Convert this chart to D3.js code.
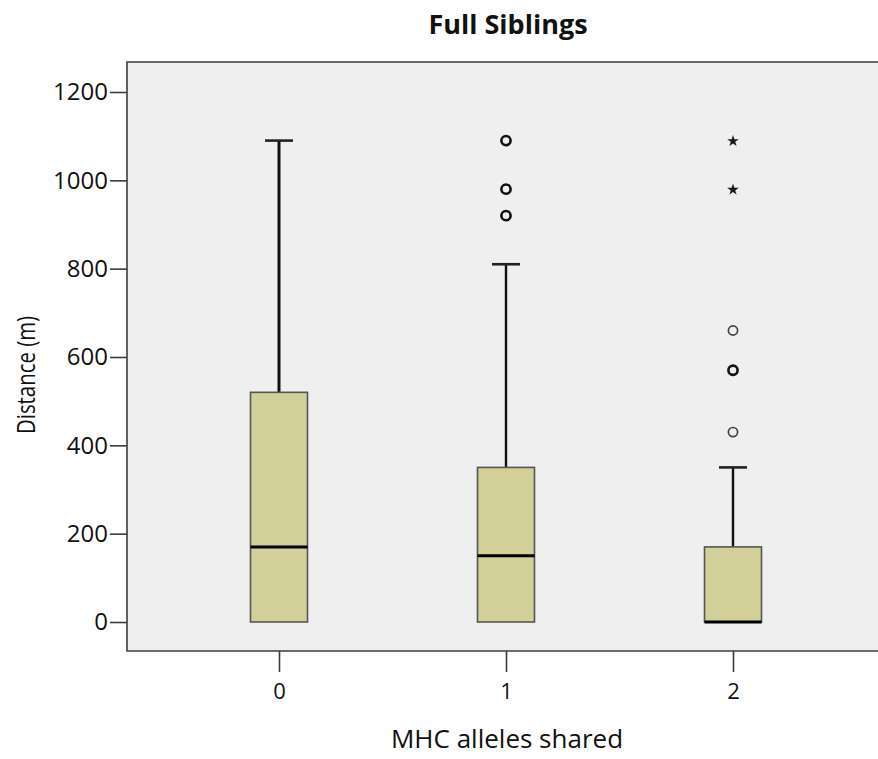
<!DOCTYPE html>
<html>
<head>
<meta charset="utf-8">
<script src="https://cdn.jsdelivr.net/npm/d3@7"></script>
<style>
  html, body { margin: 0; padding: 0; background: #ffffff; }
  svg { display: block; }
</style>
</head>
<body>
<svg id="chart" width="878" height="759"></svg>
<script>
// ---- data ----
const categories = ["0", "1", "2"];
const whiskerLow = [0, 0, 0];
const q1 = [0, 0, 0];
const median = [170, 150, 0];
const q3 = [520, 350, 170];
const whiskerHigh = [1090, 810, 350];
const outliers = [[], [1090, 1090, 980, 980, 920, 920], [660, 570, 570, 430]];
const extremes = [[], [], [1090, 980]];
const yTicks = [0, 200, 400, 600, 800, 1000, 1200];
const titleText = "Full Siblings";
const xTitle = "MHC alleles shared";
const yTitle = "Distance (m)";

// ---- layout ----
const plot = { left: 127, top: 62, right: 878, bottom: 651 };
const svg = d3.select("#chart");
const font = "'Open Sans', 'DejaVu Sans', sans-serif";

const y = d3.scaleLinear().domain([0, 1200]).range([622, 92]);
const x = d3.scalePoint().domain(categories).range([279, 733]);

// background
svg.append("rect")
  .attr("x", plot.left).attr("y", plot.top)
  .attr("width", plot.right - plot.left + 10).attr("height", plot.bottom - plot.top)
  .attr("fill", "#efefef");

// frame (top, left, bottom)
svg.append("path")
  .attr("d", `M${plot.right + 5},${plot.top}H${plot.left}V${plot.bottom}H${plot.right + 5}`)
  .attr("fill", "none").attr("stroke", "#3c3c3c").attr("stroke-width", 1.6);

// y axis
const yAxis = svg.append("g")
  .attr("transform", `translate(${plot.left},0)`)
  .call(d3.axisLeft(y).tickValues(yTicks).tickSize(17).tickPadding(2).tickFormat(d3.format("d")));
yAxis.select(".domain").remove();
yAxis.selectAll(".tick line").attr("stroke", "#3c3c3c").attr("stroke-width", 1.6);
yAxis.selectAll(".tick text")
  .attr("font-family", font)
  .attr("font-size", 24)
  .attr("fill", "#111");

// x axis
const xAxis = svg.append("g")
  .attr("transform", `translate(0,${plot.bottom})`)
  .call(d3.axisBottom(x).tickSize(21).tickPadding(11));
xAxis.select(".domain").remove();
xAxis.selectAll(".tick line").attr("stroke", "#3c3c3c").attr("stroke-width", 1.6);
xAxis.selectAll(".tick text")
  .attr("font-family", font)
  .attr("font-size", 22)
  .attr("fill", "#111");

// boxes
const boxW = 57, capW = 28;
const g = svg.append("g");
const star = d3.symbol().type(d3.symbolStar).size(42);
categories.forEach((c, i) => {
  const cx = x(c);
  // whisker
  g.append("line")
    .attr("x1", cx).attr("x2", cx)
    .attr("y1", y(q3[i])).attr("y2", y(whiskerHigh[i]))
    .attr("stroke", "#111").attr("stroke-width", i === 0 ? 3 : 2.4);
  g.append("line")
    .attr("x1", cx - capW / 2).attr("x2", cx + capW / 2)
    .attr("y1", y(whiskerHigh[i])).attr("y2", y(whiskerHigh[i]))
    .attr("stroke", "#222").attr("stroke-width", 2.6);
  // box
  g.append("rect")
    .attr("x", cx - boxW / 2).attr("y", y(q3[i]))
    .attr("width", boxW).attr("height", y(q1[i]) - y(q3[i]))
    .attr("fill", "#d3cf98").attr("stroke", "#555").attr("stroke-width", 1.6);
  // median
  g.append("line")
    .attr("x1", cx - boxW / 2).attr("x2", cx + boxW / 2)
    .attr("y1", y(median[i])).attr("y2", y(median[i]))
    .attr("stroke", "#000").attr("stroke-width", 3);
  // outliers (circles)
  const counts = d3.rollup(outliers[i], v => v.length, d => d);
  counts.forEach((n, v) => {
    g.append("circle")
      .attr("cx", cx).attr("cy", y(v)).attr("r", 4.6)
      .attr("fill", "none").attr("stroke", n > 1 ? "#111" : "#444")
      .attr("stroke-width", n > 1 ? 2.6 : 1.7);
  });
  // extremes (stars)
  extremes[i].forEach(v => {
    g.append("path")
      .attr("transform", `translate(${cx},${y(v) + 0.5})`)
      .attr("d", star)
      .attr("fill", "#1a1a1a");
  });
});

// titles
svg.append("text")
  .attr("x", 508).attr("y", 34)
  .attr("text-anchor", "middle")
  .attr("font-family", font)
  .attr("font-weight", "bold").attr("font-size", 27).attr("fill", "#111")
  .text(titleText);

svg.append("text")
  .attr("x", 507).attr("y", 748)
  .attr("text-anchor", "middle")
  .attr("font-family", font)
  .attr("font-size", 26).attr("fill", "#111")
  .text(xTitle);

svg.append("text")
  .attr("transform", "translate(35,375) rotate(-90)")
  .attr("text-anchor", "middle")
  .attr("font-family", font)
  .attr("font-size", 25)
  .attr("textLength", 118).attr("lengthAdjust", "spacingAndGlyphs")
  .attr("fill", "#111")
  .text(yTitle);
</script>
</body>
</html>
